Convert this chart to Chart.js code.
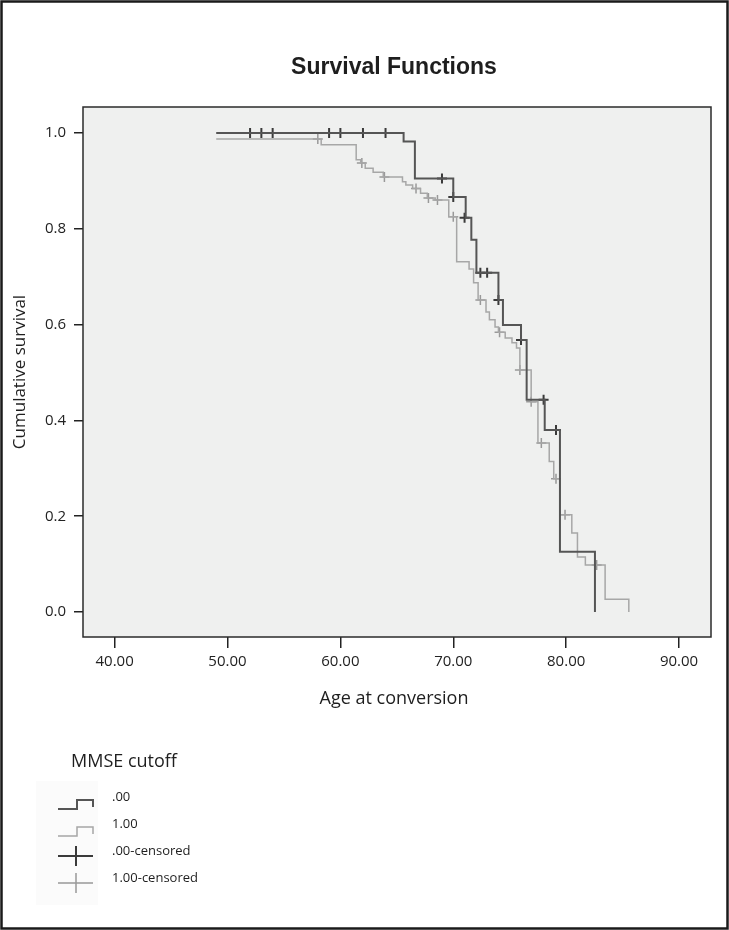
<!DOCTYPE html>
<html>
<head>
<meta charset="utf-8">
<script src="https://cdn.jsdelivr.net/npm/chart.js@4.4.1/dist/chart.umd.min.js"></script>
<style>
  html, body { margin: 0; padding: 0; background: #fff; }
  #wrap { width: 729px; height: 930px; }
</style>
</head>
<body>
<div id="wrap"><canvas id="km-chart" width="729" height="930"></canvas></div>
<script>
// Kaplan-Meier steps: age at conversion / cumulative survival after the step
var darkTimes = [49.0, 65.6, 66.6, 70.0, 71.1, 71.6, 72.05, 74.0, 74.4, 76.0, 76.5, 78.1, 79.45, 82.55];
var darkSurv  = [1.0, 0.982, 0.905, 0.866, 0.823, 0.777, 0.708, 0.651, 0.599, 0.568, 0.443, 0.380, 0.126, 0.0];

var lightTimes = [49.0, 58.3, 61.4, 61.8, 62.2, 62.9, 63.8, 65.5, 65.8, 66.4, 67.1, 67.7, 68.4, 69.6, 70.3,
                  71.4, 71.8, 72.2, 72.9, 73.2, 73.7, 74.0, 74.6, 75.2, 75.6, 75.9, 76.9, 77.5, 78.5, 78.9,
                  79.45, 80.5, 81.0, 81.7, 83.45, 85.55];
var lightSurv  = [0.987, 0.975, 0.944, 0.937, 0.926, 0.918, 0.908, 0.898, 0.891, 0.884, 0.874, 0.864, 0.860, 0.825, 0.731,
                  0.716, 0.687, 0.651, 0.626, 0.610, 0.595, 0.584, 0.572, 0.562, 0.551, 0.505, 0.439, 0.353, 0.314, 0.278,
                  0.203, 0.165, 0.115, 0.098, 0.027, 0.0];

// censored cases
var darkCensorTimes = [52.0, 53.0, 54.0, 59.0, 60.0, 62.0, 64.0, 69.0, 70.0, 71.0, 72.4, 73.0, 74.0, 76.0, 78.0, 79.1];
var darkCensorSurv  = [1.0, 1.0, 1.0, 1.0, 1.0, 1.0, 1.0, 0.905, 0.866, 0.823, 0.708, 0.708, 0.651, 0.568, 0.443, 0.380];

var lightCensorTimes = [58.0, 61.9, 63.9, 66.7, 67.8, 68.6, 70.0, 72.4, 74.1, 75.9, 76.9, 77.8, 79.1, 79.9, 82.7];
var lightCensorSurv  = [0.987, 0.937, 0.908, 0.884, 0.864, 0.860, 0.825, 0.651, 0.584, 0.505, 0.439, 0.353, 0.278, 0.203, 0.098];

var xTickValues = [40, 50, 60, 70, 80, 90];
var yTickValues = [0, 0.2, 0.4, 0.6, 0.8, 1.0];

var legendTitle = 'MMSE cutoff';
var legendLabels = ['.00', '1.00', '.00-censored', '1.00-censored'];

var DARK = '#555555', LIGHT = '#a7a7a7';
var DARK_CROSS = '#3a3a3a', LIGHT_CROSS = '#999999';
var FONT = '"Open Sans", "Noto Sans", sans-serif';

function pts(xs, ys) {
    var out = [];
    for (var i = 0; i < xs.length; i++) out.push({x: xs[i], y: ys[i]});
    return out;
}

var decor = {
    id: 'decor',
    beforeDraw: function(chart) {
        var ctx = chart.ctx, a = chart.chartArea;
        ctx.save();
        ctx.fillStyle = '#ffffff';
        ctx.fillRect(0, 0, chart.width, chart.height);
        ctx.fillStyle = '#eff0ef';
        ctx.fillRect(a.left, a.top, a.right - a.left, a.bottom - a.top);
        ctx.restore();
    },
    afterDraw: function(chart) {
        var ctx = chart.ctx, a = chart.chartArea;
        ctx.save();
        // plot box
        ctx.strokeStyle = '#2b2b2b';
        ctx.lineWidth = 1.5;
        ctx.strokeRect(a.left, a.top, a.right - a.left, a.bottom - a.top);

        // title
        ctx.fillStyle = '#1e1e1e';
        ctx.textAlign = 'center';
        ctx.textBaseline = 'middle';
        ctx.font = 'bold 23px "Liberation Sans", Arial, sans-serif';
        ctx.fillText('Survival Functions', 394, 68);

        // axis titles
        ctx.font = '18px ' + FONT;
        ctx.fillText('Age at conversion', 394, 699);
        ctx.save();
        ctx.translate(20, 372);
        ctx.rotate(-Math.PI / 2);
        ctx.font = '17px ' + FONT;
        ctx.fillText('Cumulative survival', 0, 0);
        ctx.restore();

        // legend
        ctx.fillStyle = '#fbfbfb';
        ctx.fillRect(36, 781, 62, 124);
        ctx.fillStyle = '#1e1e1e';
        ctx.textAlign = 'left';
        ctx.font = '18px ' + FONT;
        ctx.fillText(legendTitle, 71, 762);
        ctx.font = '13px ' + FONT;
        var rowY = [797, 824, 851, 878];
        for (var i = 0; i < legendLabels.length; i++) {
            ctx.fillText(legendLabels[i], 112, rowY[i]);
        }
        // step icons
        [[DARK, 2], [LIGHT, 1.5]].forEach(function(s, i) {
            var y = rowY[i] + 12;
            ctx.strokeStyle = s[0];
            ctx.lineWidth = s[1];
            ctx.beginPath();
            ctx.moveTo(58, y);
            ctx.lineTo(77, y);
            ctx.lineTo(77, y - 9);
            ctx.lineTo(93, y - 9);
            ctx.lineTo(93, y - 2);
            ctx.stroke();
        });
        // censor icons
        [[DARK_CROSS, 2], [LIGHT_CROSS, 1.5]].forEach(function(s, i) {
            var y = rowY[i + 2] + 5;
            ctx.strokeStyle = s[0];
            ctx.lineWidth = s[1];
            ctx.beginPath();
            ctx.moveTo(58, y);
            ctx.lineTo(93, y);
            ctx.moveTo(76, y - 10);
            ctx.lineTo(76, y + 10);
            ctx.stroke();
        });

        // outer frame
        ctx.strokeStyle = '#1a1a1a';
        ctx.lineWidth = 2.5;
        ctx.strokeRect(1.5, 1.5, chart.width - 3, chart.height - 3);
        ctx.restore();
    }
};

var canvas = document.getElementById('km-chart');
new Chart(canvas.getContext('2d'), {
    type: 'line',
    data: {
        datasets: [{
            label: '.00',
            data: pts(darkTimes, darkSurv),
            stepped: 'before',
            borderColor: DARK,
            borderWidth: 2,
            pointRadius: 0,
            fill: false
        }, {
            label: '.00-censored',
            data: pts(darkCensorTimes, darkCensorSurv),
            showLine: false,
            pointStyle: 'cross',
            pointRadius: 5,
            pointBorderWidth: 2,
            borderColor: DARK_CROSS,
            pointBorderColor: DARK_CROSS
        }, {
            label: '1.00',
            data: pts(lightTimes, lightSurv),
            stepped: 'before',
            borderColor: LIGHT,
            borderWidth: 1.5,
            pointRadius: 0,
            fill: false
        }, {
            label: '1.00-censored',
            data: pts(lightCensorTimes, lightCensorSurv),
            showLine: false,
            pointStyle: 'cross',
            pointRadius: 5,
            pointBorderWidth: 1.5,
            borderColor: LIGHT_CROSS,
            pointBorderColor: LIGHT_CROSS
        }]
    },
    options: {
        responsive: false,
        animation: false,
        layout: { padding: { top: 107, right: 18, left: 0, bottom: 0 } },
        plugins: {
            legend: { display: false },
            tooltip: { enabled: false }
        },
        scales: {
            x: {
                type: 'linear',
                min: 37.2,
                max: 92.83,
                afterFit: function(s) { s.height = 293; },
                afterBuildTicks: function(s) {
                    s.ticks = xTickValues.map(function(v) { return {value: v}; });
                },
                grid: { drawOnChartArea: false, drawTicks: true, tickLength: 11, color: '#222', lineWidth: 1.5 },
                border: { display: false },
                ticks: {
                    padding: 5,
                    color: '#222',
                    font: { family: FONT, size: 15 },
                    maxRotation: 0,
                    callback: function(v) { return Number(v).toFixed(2); }
                }
            },
            y: {
                type: 'linear',
                min: -0.052,
                max: 1.054,
                afterFit: function(s) { s.width = 83; },
                afterBuildTicks: function(s) {
                    s.ticks = yTickValues.map(function(v) { return {value: v}; });
                },
                grid: { drawOnChartArea: false, drawTicks: true, tickLength: 9, color: '#222', lineWidth: 1.5 },
                border: { display: false },
                ticks: {
                    padding: 8,
                    color: '#222',
                    font: { family: FONT, size: 15 },
                    callback: function(v) { return Number(v).toFixed(1); }
                }
            }
        }
    },
    plugins: [decor]
});
</script>
</body>
</html>
